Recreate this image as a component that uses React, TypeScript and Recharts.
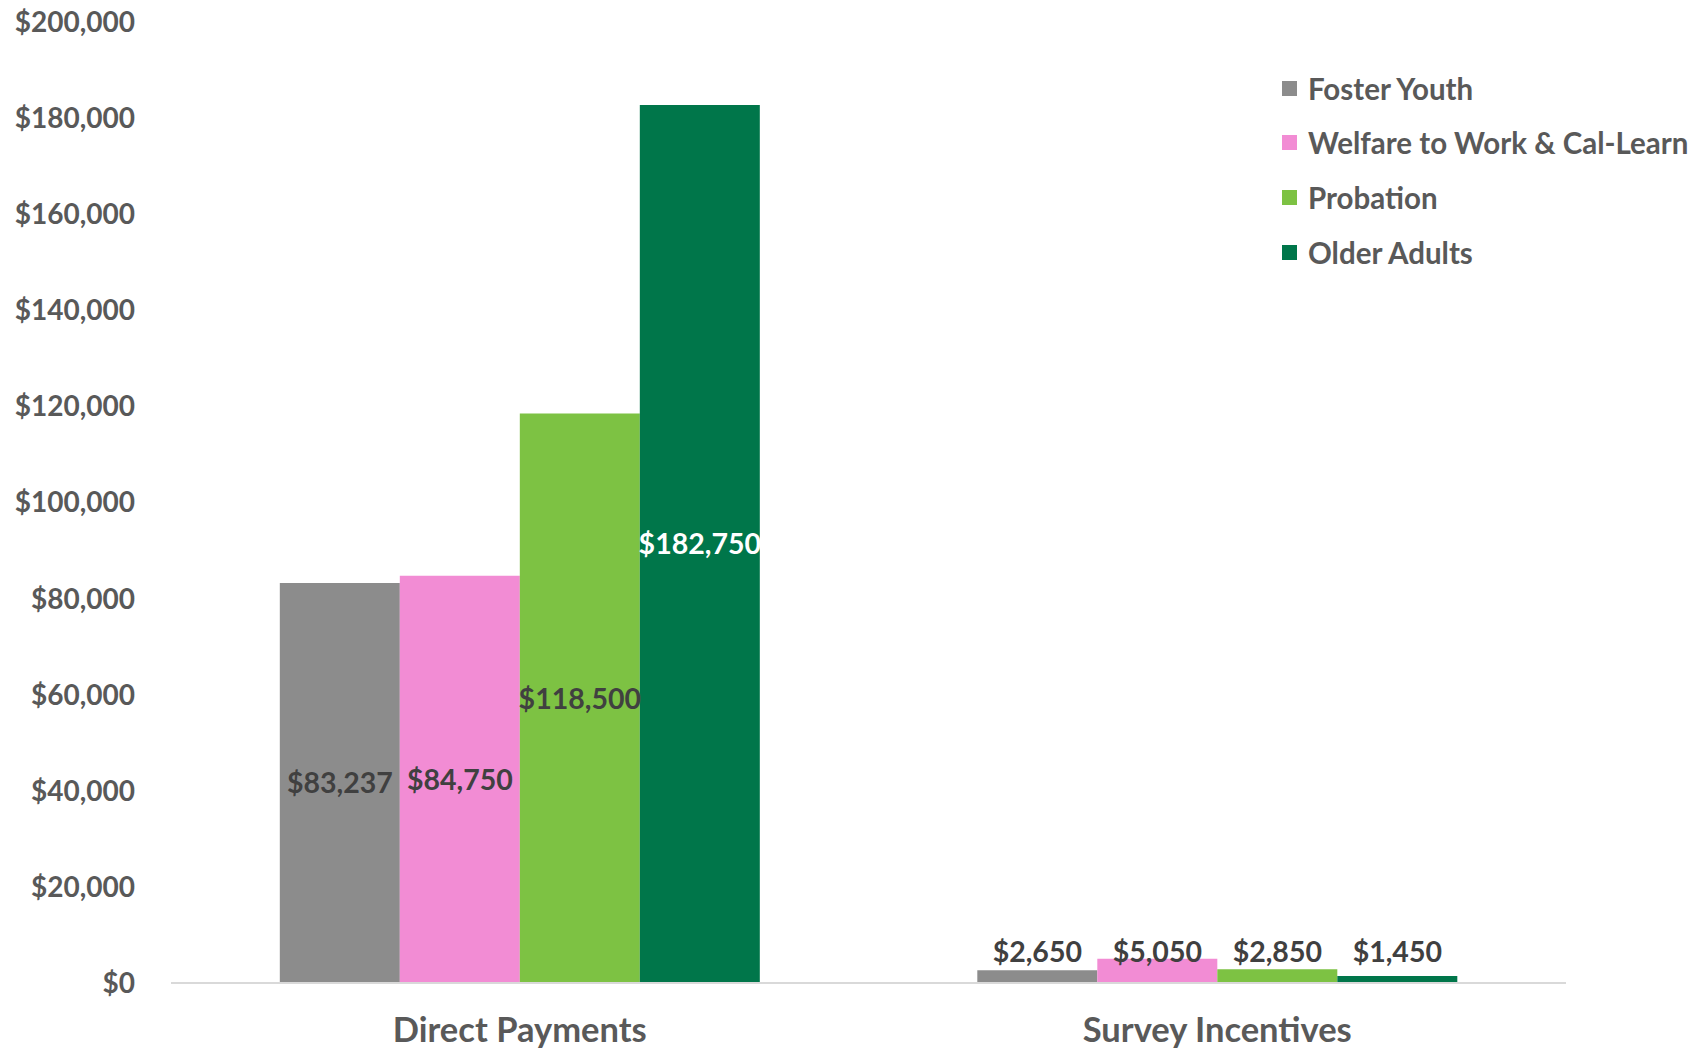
import React from "react";
import { BarChart, Bar, XAxis, YAxis, LabelList } from "recharts";

const categories = ["Direct Payments", "Survey Incentives"];
const fosterYouth = [83237, 2650];
const welfareToWork = [84750, 5050];
const probation = [118500, 2850];
const olderAdults = [182750, 1450];
const yTicks = [0, 20000, 40000, 60000, 80000, 100000, 120000, 140000, 160000, 180000, 200000];

const seriesNames = ["Foster Youth", "Welfare to Work & Cal-Learn", "Probation", "Older Adults"];
const seriesKeys = ["fy", "wtw", "prob", "older"];
const seriesColors = ["#8C8C8C", "#F28CD4", "#7DC243", "#00764A"];
const labelColors = ["#404040", "#404040", "#404040", "#FFFFFF"];

const data = categories.map((c, i) => ({
  name: c,
  fy: fosterYouth[i],
  wtw: welfareToWork[i],
  prob: probation[i],
  older: olderAdults[i],
}));

const FONT = "Lato, 'Open Sans', sans-serif";

const fmt = (v: number) => "$" + v.toLocaleString("en-US");

const makeLabel = (color: string) => (props: any) => {
  const { x, y, width, height, value } = props;
  const small = value < 20000;
  const cx = x + width / 2;
  const cy = small ? y + height - 31 : y + height / 2;
  return (
    <text
      x={cx}
      y={cy}
      dy="0.36em"
      textAnchor="middle"
      fontFamily={FONT}
      fontWeight={700}
      fontSize={28.5}
      fill={small ? "#404040" : color}
    >
      {fmt(value)}
    </text>
  );
};

const Legend = () => (
  <div style={{ position: "absolute", left: 0, top: 0, pointerEvents: "none" }}>
    {seriesNames.map((n, i) => (
      <div
        key={n}
        style={{
          position: "absolute",
          left: 1282,
          top: 88 + i * 54.7 - 18,
          height: 36,
          display: "flex",
          alignItems: "center",
          whiteSpace: "nowrap",
        }}
      >
        <div style={{ width: 15, height: 15, background: seriesColors[i], marginRight: 11 }} />
        <span style={{ fontFamily: FONT, fontWeight: 700, fontSize: 29.5, color: "#595959" }}>{n}</span>
      </div>
    ))}
  </div>
);

export default function App() {
  return (
    <div style={{ position: "absolute", left: 0, top: 0, width: 1699, height: 1051, background: "#fff" }}>
      <BarChart
        width={1699}
        height={1051}
        data={data}
        margin={{ top: 22, right: 133, bottom: 0, left: 0 }}
        barCategoryGap="15.6%"
        barGap={0}
      >
        <XAxis
          dataKey="name"
          axisLine={{ stroke: "#D9D9D9", strokeWidth: 2 }}
          tickLine={false}
          tickSize={0}
          tickMargin={35}
          tick={{ fontFamily: FONT, fontWeight: 700, fontSize: 34.5, fill: "#595959" }}
          height={68}
        />
        <YAxis
          domain={[0, 200000]}
          ticks={yTicks}
          interval={0}
          width={171}
          axisLine={false}
          tickLine={false}
          tickSize={0}
          tickMargin={36}
          tickFormatter={(v: number) => fmt(v)}
          tick={{ fontFamily: FONT, fontWeight: 700, fontSize: 28, fill: "#595959" }}
        />
        {seriesKeys.map((k, i) => (
          <Bar key={k} dataKey={k} name={seriesNames[i]} fill={seriesColors[i]} isAnimationActive={false}>
            <LabelList dataKey={k} content={makeLabel(labelColors[i])} />
          </Bar>
        ))}
      </BarChart>
      <Legend />
    </div>
  );
}
